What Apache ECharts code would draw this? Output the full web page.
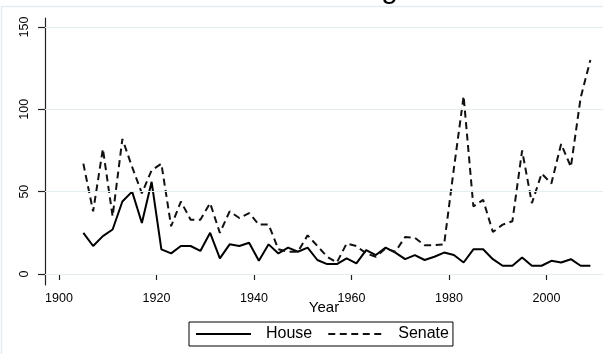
<!DOCTYPE html>
<html>
<head>
<meta charset="utf-8">
<script src="https://cdn.jsdelivr.net/npm/echarts@6/dist/echarts.min.js"></script>
<style>
html, body { margin: 0; padding: 0; background: #ffffff; }
#chart { width: 603px; height: 354px; }
</style>
</head>
<body>
<div id="chart"></div>
<script>
// Congress sessions (odd years)
const years = [
  1905, 1907, 1909, 1911, 1913, 1915, 1917, 1919, 1921, 1923,
  1925, 1927, 1929, 1931, 1933, 1935, 1937, 1939, 1941, 1943,
  1945, 1947, 1949, 1951, 1953, 1955, 1957, 1959, 1961, 1963,
  1965, 1967, 1969, 1971, 1973, 1975, 1977, 1979, 1981, 1983,
  1985, 1987, 1989, 1991, 1993, 1995, 1997, 1999, 2001, 2003,
  2005, 2007, 2009
];

const house = [
  25, 17, 23, 27, 44, 50, 31, 56, 15, 12.5,
  17, 17, 14, 25, 9.5, 18, 17, 19, 8, 18,
  12.5, 16, 13.5, 16, 8.5, 6, 6, 9.5, 6.5, 14.5,
  11.5, 16, 13, 9, 11.5, 8.5, 10.5, 13, 11.5, 7,
  15, 15, 9, 5, 5, 10, 5, 5, 8, 7,
  9, 5, 5
];

const senate = [
  67, 38, 76, 35, 82, 65, 49, 63, 67, 29,
  44, 33, 33, 43, 25, 38, 34, 37, 30, 30,
  15, 13.5, 13.5, 23.5, 17, 10.5, 7, 18.5, 17, 12.5,
  10.5, 15.5, 13.5, 22.5, 22, 17.5, 17.5, 18, 64, 108,
  41, 45, 25.5, 30, 32, 75, 43, 61, 55, 79,
  65, 107, 130
];

const xTicks = [1900, 1920, 1940, 1960, 1980, 2000];
const yTicks = [0, 50, 100, 150];

const FONT = '"Liberation Sans", Arial, Helvetica, sans-serif';
const INK = '#000000';

const chart = echarts.init(document.getElementById('chart'), null, { renderer: 'canvas' });

chart.setOption({
  animation: false,
  backgroundColor: '#ffffff',
  title: {
    text: 'Roll-Call Voting',
    right: 205,
    top: -25,
    padding: 0,
    textStyle: { fontFamily: FONT, fontSize: 30, fontWeight: 'normal', color: INK }
  },
  graphic: [{
    type: 'rect',
    silent: true,
    z: -10,
    shape: { x: 1.5, y: 6.5, width: 700, height: 400 },
    style: { fill: 'none', stroke: '#e3ecef', lineWidth: 1.5 }
  }],
  grid: { left: 45, right: 0, top: 18, bottom: 69, containLabel: false },
  xAxis: {
    type: 'value',
    min: 1897.13,
    max: 2011.59,
    name: 'Year',
    nameLocation: 'middle',
    nameGap: 15,
    nameMoveOverlap: false,
    nameTextStyle: { fontFamily: FONT, fontSize: 15, color: INK },
    axisLine: { show: true, lineStyle: { color: '#222222', width: 1.2 } },
    axisTick: { show: true, length: 6, customValues: xTicks, lineStyle: { color: '#222222', width: 1.2 } },
    axisLabel: {
      customValues: xTicks,
      formatter: v => String(v),
      margin: 7,
      fontFamily: FONT, fontSize: 12.5, color: INK
    },
    splitLine: { show: false }
  },
  yAxis: {
    type: 'value',
    min: -6.68,
    max: 155.46,
    axisLine: { show: true, lineStyle: { color: '#222222', width: 1.2 } },
    axisTick: { show: true, length: 7, customValues: yTicks, lineStyle: { color: '#222222', width: 1.2 } },
    axisLabel: {
      customValues: yTicks,
      formatter: v => String(v),
      rotate: 90,
      margin: 14,
      fontFamily: FONT, fontSize: 12.5, color: INK
    },
    splitLine: { show: false }
  },
  legend: {
    data: ['House', 'Senate'],
    left: 189,
    top: 322,
    orient: 'horizontal',
    itemWidth: 55,
    itemHeight: 2,
    itemGap: 15,
    padding: [4, 4, 4, 6],
    borderColor: '#000000',
    borderWidth: 1,
    backgroundColor: '#ffffff',
    itemStyle: { opacity: 0 },
    textStyle: { fontFamily: FONT, fontSize: 16, color: INK, padding: [0, 0, 0, 10] }
  },
  series: [
    {
      // horizontal grid lines at each y tick
      type: 'line',
      data: [],
      silent: true,
      z: 1,
      markLine: {
        silent: true,
        symbol: ['none', 'none'],
        label: { show: false },
        lineStyle: { color: '#e4edf0', width: 1.2, type: 'solid' },
        data: yTicks.map(v => ({ yAxis: v }))
      }
    },
    {
      name: 'House',
      type: 'line',
      z: 3,
      data: years.map((y, i) => [y, house[i]]),
      showSymbol: false,
      symbol: 'none',
      lineStyle: { color: INK, width: 2 },
      itemStyle: { color: INK }
    },
    {
      name: 'Senate',
      type: 'line',
      z: 3,
      data: years.map((y, i) => [y, senate[i]]),
      showSymbol: false,
      symbol: 'none',
      lineStyle: { color: '#111111', width: 2, type: [7, 4.5] },
      itemStyle: { color: '#111111' }
    }
  ]
});
</script>
</body>
</html>
